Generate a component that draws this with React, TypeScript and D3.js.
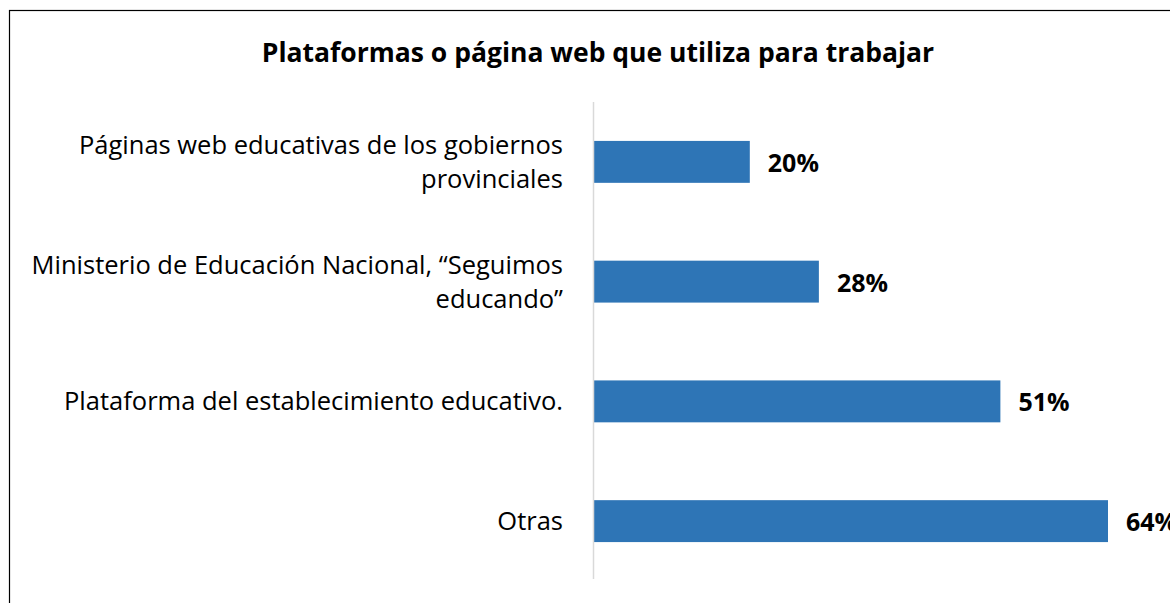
import React from "react";
import * as d3 from "d3";

const categories: string[][] = [
  ["Páginas web educativas de los gobiernos", "provinciales"],
  ["Ministerio de Educación Nacional, “Seguimos", "educando”"],
  ["Plataforma del establecimiento educativo."],
  ["Otras"],
];
const values: number[] = [19.4, 28.0, 50.6, 64.0];
const labels: string[] = ["20%", "28%", "51%", "64%"];
const title = "Plataformas o página web que utiliza para trabajar";

export default function App() {
  const W = 1170, H = 603;
  const x = d3.scaleLinear().domain([0, 64]).range([594, 1108]);
  const y = d3
    .scaleBand<number>()
    .domain(d3.range(values.length))
    .range([102, 581])
    .paddingInner(0.65)
    .paddingOuter(0.325);
  const font = "'Open Sans', sans-serif";
  return (
    <svg width={W} height={H} style={{ position: "absolute", left: 0, top: 0, background: "#fff" }} fontFamily={font}>
      <rect x={9.5} y={10.5} width={W + 10} height={H + 10} fill="#fff" stroke="#000" strokeWidth={1.2} />
      <text x={598} y={62} textAnchor="middle" fontWeight="bold" fontSize={26.5} fill="#000">
        {title}
      </text>
      {values.map((v, i) => {
        const y0 = y(i)!;
        const bh = y.bandwidth();
        const cy = y0 + bh / 2;
        const lines = categories[i];
        const lh = 34;
        const startY = cy - ((lines.length - 1) * lh) / 2 - 1;
        return (
          <g key={i}>
            <rect x={x(0)} y={y0} width={x(v) - x(0)} height={bh} fill="#2E75B6" />
            <text x={x(v) + 18} y={cy} dominantBaseline="central" fontWeight="bold" fontSize={25} fill="#000">
              {labels[i]}
            </text>
            {lines.map((l, j) => (
              <text key={j} x={563} y={startY + j * lh} dominantBaseline="central" textAnchor="end" fontSize={25.5} fill="#000">
                {l}
              </text>
            ))}
          </g>
        );
      })}
      <line x1={593.5} x2={593.5} y1={102} y2={579} stroke="#d9d9d9" strokeWidth={1.5} />
    </svg>
  );
}
